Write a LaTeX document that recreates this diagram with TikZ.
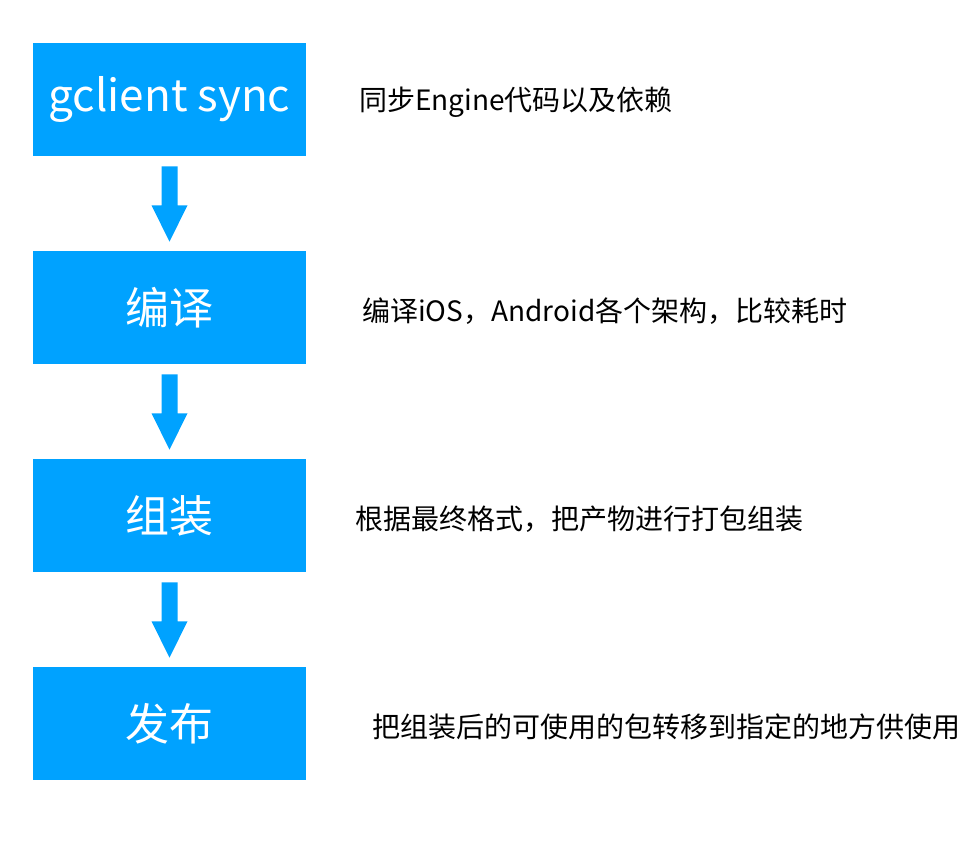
\documentclass[tikz,border=0pt]{standalone}
\usepackage{fontspec}
\setmainfont{Noto Sans CJK SC}
\newfontfamily\cjk{Noto Sans CJK SC}
\definecolor{boxblue}{RGB}{0,162,255}
\begin{document}
\begin{tikzpicture}[x=0.75pt,y=-0.75pt,
  stepbox/.style={fill=boxblue,draw=none,minimum width=273*0.75pt,minimum height=113*0.75pt,inner sep=0pt,text=white,font=\cjk\fontsize{33}{38}\selectfont},
  desc/.style={anchor=west,inner sep=0pt,text=black,font=\cjk\fontsize{21}{25}\selectfont},
  blockarrow/.style={fill=boxblue,draw=none}]
\fill[white] (0,0) rectangle (980,848);
\useasboundingbox (0,0) rectangle (980,848);
\node[stepbox] (b1) at (169.5,99.5) {\raisebox{-3pt}{gclient sync}};
\node[stepbox] (b2) at (169.5,307.5) {\raisebox{-2pt}{编译}};
\node[stepbox] (b3) at (169.5,515.5) {\raisebox{-2pt}{组装}};
\node[stepbox] (b4) at (169.5,723.5) {\raisebox{-2pt}{发布}};
\node[desc] (t1) at (359,102) {同步Engine代码以及依赖};
\node[desc] (t2) at (362,311) {编译iOS，Android各个架构，比较耗时};
\node[desc] (t3) at (355,519) {根据最终格式，把产物进行打包组装};
\node[desc] (t4) at (372,727) {把组装后的可使用的包转移到指定的地方供使用};
\foreach \a/\b in {b1/b2,b2/b3,b3/b4}{
  \fill[blockarrow] ([xshift=-8*0.75pt,yshift=-10*0.75pt]\a.south) -- ([xshift=8*0.75pt,yshift=-10*0.75pt]\a.south)
    -- ([xshift=8*0.75pt,yshift=-49*0.75pt]\a.south) -- ([xshift=18*0.75pt,yshift=-49*0.75pt]\a.south)
    -- ([yshift=9*0.75pt]\b.north) -- ([xshift=-18*0.75pt,yshift=-49*0.75pt]\a.south)
    -- ([xshift=-8*0.75pt,yshift=-49*0.75pt]\a.south) -- cycle;
}
\end{tikzpicture}
\end{document}
